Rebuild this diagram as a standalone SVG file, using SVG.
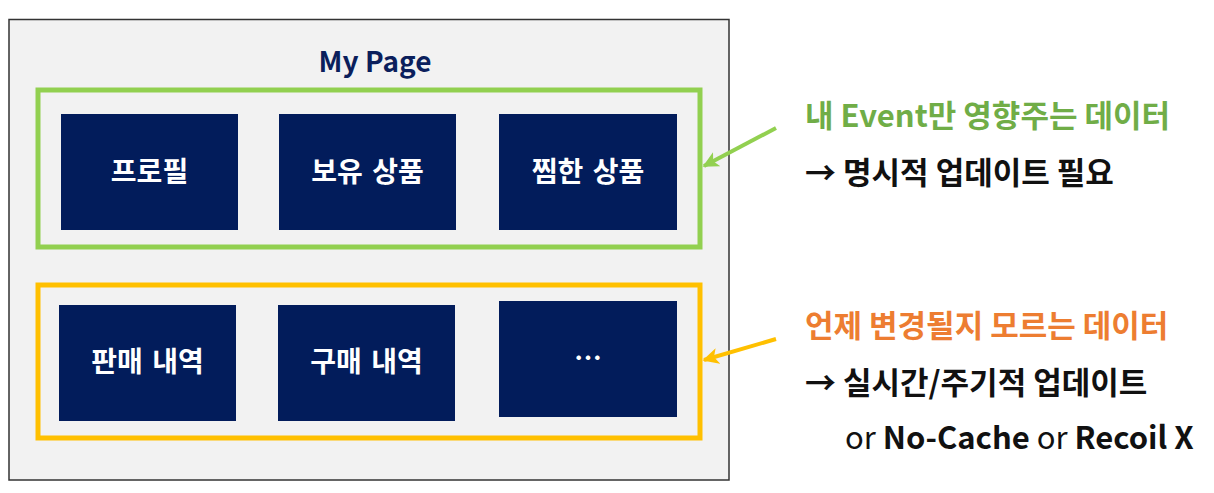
<svg xmlns="http://www.w3.org/2000/svg" width="1214" height="493" viewBox="0 0 1214 493">
<style>
.nb{fill:#021C5B;}
.nt{font-family:"Noto Sans CJK KR","Noto Sans",sans-serif;font-weight:700;font-size:28px;fill:#fff;text-anchor:middle;word-spacing:3px;}
.rt{font-family:"Noto Sans CJK KR","Noto Sans",sans-serif;font-weight:700;font-size:31px;}
</style>
<defs>
<marker id="ag" viewBox="0 0 10 10" refX="9" refY="5" markerWidth="4" markerHeight="4" orient="auto"><path d="M0,0L10,5L0,10L2.5,5z" fill="#92D050"/></marker>
<marker id="ao" viewBox="0 0 10 10" refX="9" refY="5" markerWidth="4" markerHeight="4" orient="auto"><path d="M0,0L10,5L0,10L2.5,5z" fill="#FFC000"/></marker>
</defs>
<rect width="1214" height="493" fill="#fff"/>
<g id="page">
<rect x="9" y="19.5" width="720" height="460.5" fill="#F2F2F2" stroke="#333" stroke-width="1.5"/>
<text x="375" y="72" text-anchor="middle" font-family="'Noto Sans CJK KR','Noto Sans',sans-serif" font-weight="700" font-size="28" fill="#0B1F5C">My Page</text>
</g>
<g id="group-green"><rect x="38" y="90" width="662" height="157" fill="none" stroke="#92D050" stroke-width="5"/></g>
<g id="group-orange"><rect x="38" y="285" width="662" height="153" fill="none" stroke="#FFC000" stroke-width="5"/></g>
<g id="profile"><rect class="nb" x="61" y="114" width="177" height="116"/><text class="nt" x="149.5" y="182">프로필</text></g>
<g id="owned"><rect class="nb" x="279" y="114" width="177" height="116"/><text class="nt" x="367.5" y="182">보유 상품</text></g>
<g id="wish"><rect class="nb" x="499" y="114" width="178" height="116"/><text class="nt" x="588" y="182">찜한 상품</text></g>
<g id="sales"><rect class="nb" x="59" y="305" width="177" height="116"/><text class="nt" x="147.5" y="372">판매 내역</text></g>
<g id="purchase"><rect class="nb" x="278" y="305" width="177" height="116"/><text class="nt" x="366.5" y="372">구매 내역</text></g>
<g id="more"><rect class="nb" x="499" y="301" width="178" height="116"/><text class="nt" x="588" y="369">…</text></g>
<g id="connectors">
<line x1="776" y1="128" x2="704" y2="166" stroke="#92D050" stroke-width="4" marker-end="url(#ag)"/>
<line x1="776" y1="339" x2="704" y2="360" stroke="#FFC000" stroke-width="4" marker-end="url(#ao)"/>
</g>
<g id="note-green">
<text class="rt" x="805" y="127" fill="#70AD47">내 Event만 영향주는 데이터</text>
<text class="rt" x="805" y="184" fill="#111">→ 명시적 업데이트 필요</text>
</g>
<g id="note-orange">
<text class="rt" x="805" y="337" fill="#ED7D31">언제 변경될지 모르는 데이터</text>
<text class="rt" x="805" y="394" fill="#111">→ 실시간/주기적 업데이트</text>
<text class="rt" x="845" y="449" fill="#111"><tspan font-weight="400">or </tspan>No-Cache<tspan font-weight="400"> or </tspan>Recoil X</text>
</g>
</svg>
